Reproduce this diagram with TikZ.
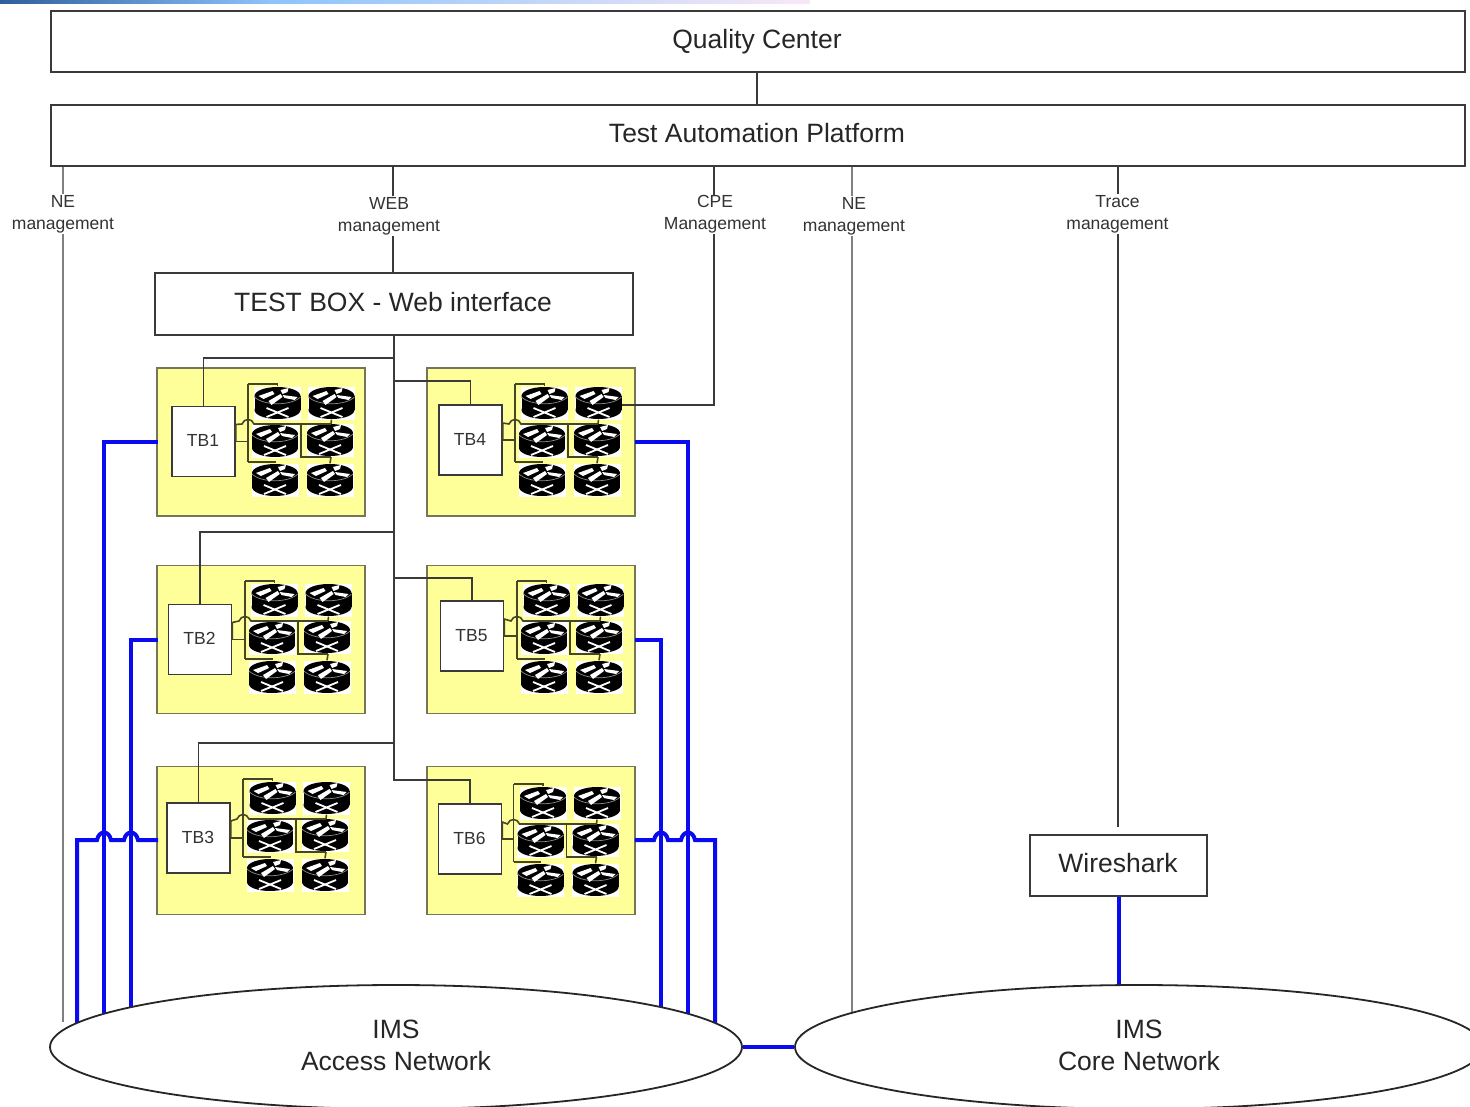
\documentclass[tikz,border=0pt]{standalone}
\usepackage{fontspec}
\usetikzlibrary{shapes.geometric}
\setmainfont{Liberation Sans}
\definecolor{boxline}{HTML}{3A3A3A}
\definecolor{greyline}{HTML}{808080}
\definecolor{wireline}{HTML}{45452A}
\definecolor{linkblue}{HTML}{0A0AF0}
\definecolor{groupfill}{HTML}{FFFF99}
\definecolor{barA}{HTML}{2F5F9C}
\definecolor{barB}{HTML}{8CC4FA}
\definecolor{barC}{HTML}{F8E8F6}
\tikzset{
  bigbox/.style={draw=boxline,line width=1.4pt,fill=white,inner sep=0pt,font=\fontsize{26.5}{32}\selectfont,align=center},
  groupbox/.style={draw=boxline!70!groupfill,line width=1.8pt,fill=groupfill,minimum width=208pt,inner sep=0pt},
  tbbox/.style={draw=boxline,line width=1.4pt,fill=white,minimum width=63pt,minimum height=70pt,inner sep=0pt,font=\fontsize{17.5}{20}\selectfont,text=black!80},
  lbl/.style={fill=white,inner sep=1pt,align=center,font=\fontsize{17.5}{22}\selectfont,text=black!80},
  greyl/.style={draw=greyline,line width=2.2pt},
  darkl/.style={draw=boxline,line width=1.4pt},
  wire/.style={draw=wireline,line width=1.6pt},
  blue link/.style={draw=linkblue,line width=4pt,line join=miter},
  net/.style={draw=black!85,line width=1.8pt,fill=white,ellipse,inner sep=0pt,align=center,font=\fontsize{26.5}{32}\selectfont},
  routerbox/.style={fill=white,inner sep=0pt,minimum width=47pt,minimum height=33pt,
    path picture={
      \begin{scope}[shift={(path picture bounding box.center)}]
        \fill[black] (-23,-7) rectangle (23,7);
        \fill[black] (0,-7) ellipse[x radius=23,y radius=9];
        \fill[black] (0,7) ellipse[x radius=23,y radius=9];
        \draw[black!45,line width=.7pt] (-23,-6) .. controls (-14,3) and (14,3) .. (23,-6);
        \fill[white] (-19,-7) -- (-5,-12) -- (-3,-9) -- (-14,-4) -- cycle;
        \fill[white] (3,-13) -- (11,-15) -- (10,-11) -- (5,-9) -- cycle;
        \fill[white] (5,-8) -- (20,-6) -- (17,-3) -- (7,-5) -- cycle;
        \fill[white] (-9,-2) -- (3,-9) -- (5,-6) -- (-6,2) -- cycle;
        \draw[white,line width=1.8pt] (-11,5) -- (11,14) (11,5) -- (-11,14);
      \end{scope}}},
}
\begin{document}
\begin{tikzpicture}[x=1pt,y=-1pt]
\useasboundingbox (0,0) rectangle (1470,1107);
\clip (0,0) rectangle (1470,1107);
\fill[white] (0,0) rectangle (1470,1107);
% top strip
\shade[left color=barA,right color=barB] (0,0) rectangle (270,4);
\shade[left color=barB,right color=barC] (270,0) rectangle (810,4);

% main boxes
\node[bigbox,minimum width=1414pt,minimum height=61pt] (qc) at (758,41.5) {};
\node[font=\fontsize{26.5}{32}\selectfont,text=black!85] (qct) at (757,42) {Quality Center};
\node[bigbox,minimum width=1414pt,minimum height=61pt] (tap) at (758,135.5) {};
\node[font=\fontsize{26.5}{32}\selectfont,text=black!85] (tapt) at (757,133) {Test Automation Platform};
\node[bigbox,minimum width=478pt,minimum height=62pt] (web) at (394,304) {};
\node[font=\fontsize{26.5}{32}\selectfont,text=black!85] (webt) at (393,302) {TEST BOX - Web interface};
\node[bigbox,minimum width=177pt,minimum height=61pt] (ws) at (1118.5,865.5) {};
\node[font=\fontsize{26.5}{32}\selectfont,text=black!85] (wst) at (1118,863) {Wireshark};
\draw[darkl] (qc.south -| tapt) -- (tap.north -| tapt);

% free ends
\coordinate (neA) at (63,1022);
\coordinate (neB) at (852,1012);
\coordinate (trace) at (1118,827);
\coordinate (a1) at (104,1013);
\coordinate (a2) at (131,1007);
\coordinate (a3) at (77,1023);
\coordinate (a4) at (688,1014);
\coordinate (a5) at (661,1007);
\coordinate (a6) at (715,1023);
\coordinate (trunk) at (394,780);

% groups
\foreach \g/\gx/\gy/\bx/\by/\dx/\dy in {
  1/261/442/203.5/441.5/0/0,
  2/261/639.5/200/639.5/-3/197,
  3/261/840.5/198.5/838/-5/395,
  4/531/442/470.5/440/267/0,
  5/531/639.5/472/636/269/197,
  6/531/840.5/470/839/265.5/400}{
  \node[groupbox,minimum height=148pt] (g\g) at (\gx,\gy) {};
  \node[tbbox] (tb\g) at (\bx,\by) {\raisebox{2pt}{TB\g\kern1pt}};
  \begin{scope}[shift={(\dx,\dy)}]
    \coordinate (wv\g) at (248,441);
    \node[routerbox] (r\g a) at (277.5,403) {};
    \node[routerbox] (r\g b) at (331.5,403) {};
    \node[routerbox] (r\g c) at (275,441) {};
    \node[routerbox] (r\g d) at (330,440) {};
    \node[routerbox] (r\g e) at (275,480) {};
    \node[routerbox] (r\g f) at (330,480) {};
    \draw[wire] (tb\g.east) -| (wv\g);
    \draw[wire] (248,384) -- (248,462);
    \draw[wire] (tb\g.east) -- ++(0,-17) -- (242,424) .. controls (244,418) and (252,418) .. (254,424) -- (331,424);
    \draw[wire] (301,424) -- (301,457) -- (331,457);
    \draw[wire] (248,384) -| (r\g a.north);
    \draw[wire] (248,462) -| (r\g e.north);
    \draw[wire] (331,424) -- (r\g b.south);
    \draw[wire] (331,457) -- (r\g f.north);
  \end{scope}
}

% test box fan-out
\draw[darkl] (web.south) -- (trunk) -| (tb6.north);
\draw[darkl] (394,358) -| (tb1.north);
\draw[darkl] (394,381) -| (tb4.north);
\draw[darkl] (394,532) -| (tb2.north);
\draw[darkl] (394,578) -| (tb5.north);
\draw[darkl] (394,743) -| (tb3.north);

% upper connections
\draw[greyl] (tap.south -| neA) -- (neA);
\draw[greyl] (tap.south -| neB) -- (neB);
\draw[darkl] (tap.south -| 393,0) -- (web.north -| 393,0);
\draw[darkl] (tap.south -| trace) -- (trace);
\coordinate (cpe) at (714,405);
\draw[darkl] (tap.south -| cpe) -- (cpe) -- (622,405);

% blue links
\draw[blue link] ([xshift=2pt]g1.west) -| (a1);
\draw[blue link] ([xshift=2pt]g2.west) -| (a2);
\draw[blue link] ([xshift=-1pt]g4.east) -| (a4);
\draw[blue link] ([xshift=-1pt]g5.east) -| (a5);
\draw[blue link] ([xshift=2pt]g3.west |- 0,840) -- (138,840) .. controls (136,830) and (126,830) .. (124,840)
  -- (111,840) .. controls (109,830) and (99,830) .. (97,840) -- (77,840) -- (a3);
\draw[blue link] ([xshift=-1pt]g6.east |- 0,840) -- (654,840) .. controls (656,830) and (666,830) .. (668,840)
  -- (681,840) .. controls (683,830) and (693,830) .. (695,840) -- (715,840) -- (a6);
\draw[blue link] (ws.south) -- (ws.south |- 0,985);

% networks
\node[net,minimum width=692pt,minimum height=124pt] (access) at (396,1047) {};
\node[net,minimum width=688pt,minimum height=124pt] (core) at (1139,1047) {};
\node[align=center,font=\fontsize{26.5}{32}\selectfont,text=black!85] (accesst) at (396,1045) {IMS\\Access Network};
\node[align=center,font=\fontsize{26.5}{32}\selectfont,text=black!85] (coret) at (1139,1045) {IMS\\Core Network};
\draw[blue link] (access.east) -- (core.west);

% labels
\node[lbl] (l1) at (63,214) {NE\\management};
\node[lbl] (l2) at (389,216) {WEB\\management};
\node[lbl] (l3) at (715,214.5) {CPE\\Management};
\node[lbl] (l4) at (854,216) {NE\\management};
\node[lbl] (l5) at (1117.5,214) {Trace\\management};
\end{tikzpicture}
\end{document}
